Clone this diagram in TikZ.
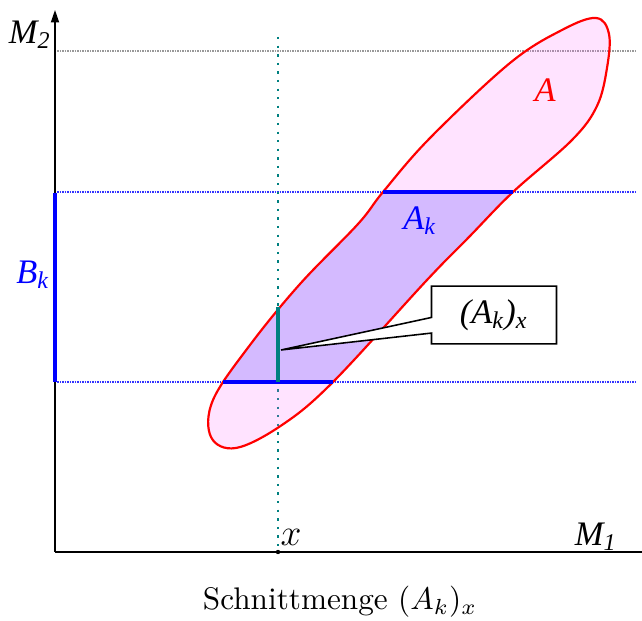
\documentclass[tikz,border=0pt]{standalone}
\usepackage{fontspec}
\newfontfamily\tms{Liberation Serif}
\usetikzlibrary{arrows.meta, shapes.callouts}
\definecolor{setpink}{HTML}{FF66FF}
\definecolor{setblue}{HTML}{3C28FF}
\definecolor{cutteal}{HTML}{008080}

\newcommand{\setA}{plot[smooth cycle, tension=0.6] coordinates {
  (596,18) (609,34) (607,68) (597,106) (572,140) (513,192)
  (470,236) (427,280) (333,382) (282,425) (236,448) (211,437)
  (213,400) (250,345) (300,284) (358,224) (383,192) (430,138)
  (510,63) (562,30)}}

\begin{document}
\begin{tikzpicture}[x=0.32pt, y=-0.32pt,
  guide/.style={dash pattern=on 0.35pt off 0.45pt, line width=0.4pt},
  axis/.style={line width=0.45pt},
  tmslabel/.style={font=\fontsize{11}{13}\selectfont\tms\itshape, inner sep=0pt},
  cutline/.style={line width=1pt}
]
\useasboundingbox (0,0) rectangle (642,621);

% guides
\draw[guide, gray!80] (55,51) -- (636,51);
\draw[guide, blue!80] (55,192) -- (636,192);
\draw[guide, blue!80] (55,382) -- (636,382);
\draw[dotted, cutteal, line width=0.75pt] (278,37) -- (278,552);

% the set A and the strip A_k
\fill[setpink, fill opacity=0.18] \setA;
\begin{scope}
  \clip (0,192) rectangle (642,382);
  \fill[setblue, fill opacity=0.22] \setA;
\end{scope}
\draw[red, line width=0.7pt] \setA;

% axes
\coordinate (O) at (55,552);
\draw[axis, -{Triangle[length=4pt, width=2.6pt]}] (O) -- (55,10);
\draw[axis] (O) -- (642,552);

% B_k and its pieces
\draw[blue, line width=1.3pt] (55,193) -- (55,382);
\draw[blue, cutline] (383,192) -- (513,192);
\draw[blue, cutline] (223,382) -- (333,382);
\coordinate (cuttop) at (278,307);
\coordinate (cutbot) at (278,382);
\draw[cutteal, cutline] (cuttop) -- (cutbot);
\fill[black] (278,552) circle (2.2);

% labels
\node[tmslabel] (m2) at (30,35) {M\textsubscript{2}};
\node[tmslabel] (m1) at (596,537) {M\textsubscript{1}};
\node[tmslabel, red] (setlabel) at (545,90) {A};
\node[tmslabel, blue] (aklabel) at (420,221) {A\textsubscript{k}};
\node[tmslabel, blue] (bklabel) at (33,275) {B\textsubscript{k}};
\node[font=\fontsize{12}{14}\selectfont] (xlabel) at (291,537) {$x$};

\coordinate (tip) at (281,350);
\node[rectangle callout, draw, fill=white, line width=0.5pt,
  minimum width=40pt, minimum height=18.5pt,
  callout absolute pointer={(tip)}, callout pointer width=5pt,
  font=\fontsize{11}{13}\selectfont\tms\itshape] (cut) at (494,315)
  {(A\textsubscript{k})\textsubscript{x}};

\node[font=\fontsize{10}{12}\selectfont] (caption) at (340,602) {Schnittmenge $(A_k)_x$};
\end{tikzpicture}
\end{document}
